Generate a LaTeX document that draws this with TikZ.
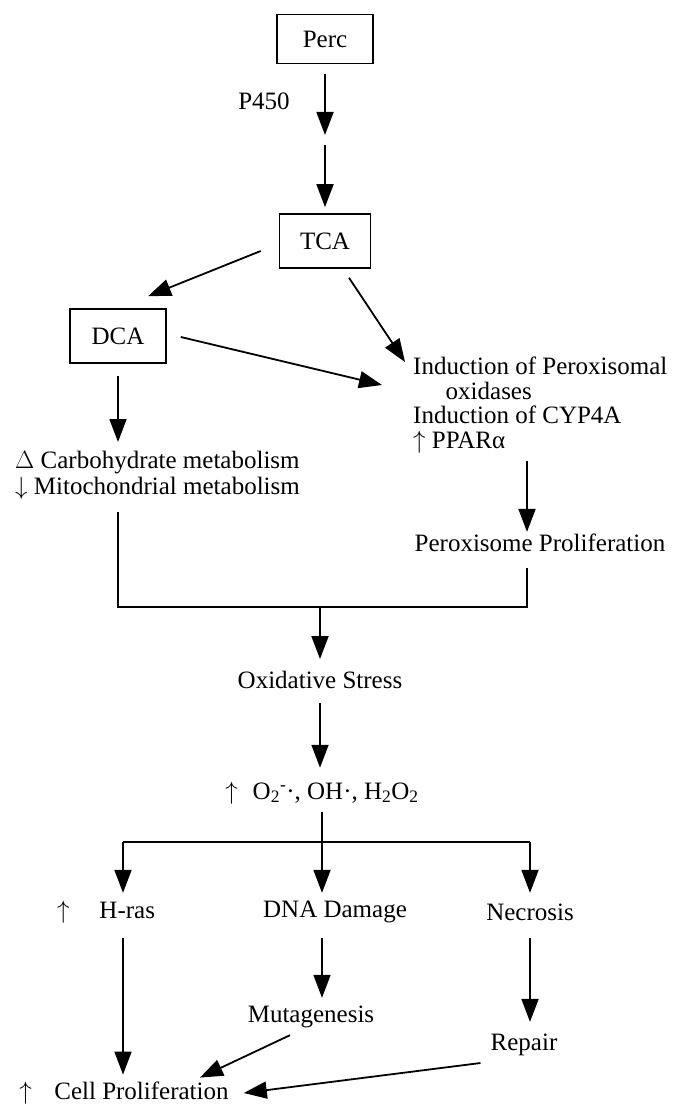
\documentclass[tikz,border=0pt]{standalone}
\usepackage{fontspec}
\setmainfont{Liberation Serif}
\usetikzlibrary{arrows.meta,calc}

\begin{document}
\begin{tikzpicture}[x=1pt,y=-1pt,
  every node/.style={font=\fontsize{25pt}{23.5pt}\selectfont, inner sep=0pt},
  box/.style={draw, line width=1.6pt, minimum width=#1, minimum height=54pt},
  arr/.style={line width=1.8pt, -{Triangle[length=23pt,width=17pt]}},
  link/.style={line width=1.5pt}]
  \useasboundingbox (0,0) rectangle (677,1105);
  % Perc is turned into TCA.
  \node[box=96pt, minimum height=49pt] (perc) at (325,39) {Perc};
  \node (p450) at (264,101) {P450};
  \coordinate (gap) at (325,140);
  \node[box=91pt] (tca) at (325,241) {TCA};
  \draw[arr, shorten <=10pt, shorten >=5pt] (perc) -- (gap);
  \draw[arr, shorten <=5pt, shorten >=6pt] (gap) -- (tca);
  % TCA gives DCA.
  \node[box=96pt] (dca) at (118,336) {DCA};
  \draw[arr] ($(tca.west)+(-18,10)$) -- ($(dca.north)+(30,-12)$);
  % What DCA does on its own.
  \node[anchor=north west, align=left, font=\fontsize{25pt}{26pt}\selectfont] (carb) at (15,451)
    {$\Delta$ Carbohydrate metabolism\\\smash{$\downarrow$} Mitochondrial metabolism};
  \draw[arr, shorten <=12pt, shorten >=9pt] (dca) -- (dca |- carb.north);
  % What TCA and DCA both do.
  \node[anchor=north west, align=left, font=\fontsize{25pt}{24.5pt}\selectfont] (induc) at (413,357)
    {Induction of Peroxisomal\\\hspace*{1.3em}oxidases\\Induction of CYP4A\\\smash{$\uparrow$} PPARα};
  \draw[arr] ($(tca.south)+(24,9)$) -- ($(induc.north west)+(-8,5)$);
  \draw[arr] ($(dca.east)+(14,1)$) -- ($(induc.north west)+(-31,28)$);
  \coordinate (colR) at (527,0);
  \node (perox) at (540,543) {Peroxisome Proliferation};
  \draw[arr, shorten <=12pt, shorten >=2pt] (induc.south -| colR) -- (perox.north -| colR);
  % Both branches meet.
  \coordinate (joinL) at (118,607);
  \coordinate (joinM) at (320,607);
  \coordinate (joinR) at (527,607);
  \draw[link, shorten <=17pt, shorten >=16pt] (carb.south -| joinL) -- (joinL) -- (joinR) -- (perox.south -| joinR);
  \node (oxid) at (320,680) {Oxidative Stress};
  \draw[arr, shorten >=12pt] (joinM) -- (oxid);
  \node (ros) at (322,793) {$\uparrow$\hspace{0.6em}O\textsubscript{2}\textsuperscript{-}·, OH·, H\textsubscript{2}O\textsubscript{2}};
  \draw[arr, shorten <=14pt, shorten >=14pt] (oxid) -- (oxid |- ros.north);
  % Three outcomes.
  \coordinate (splitL) at (123,842);
  \coordinate (splitM) at (322,842);
  \coordinate (splitR) at (530,842);
  \node (hras) at (106,912) {$\uparrow$\hspace{1.2em}H-ras};
  \node (dna) at (335,912) {DNA Damage};
  \node (necro) at (530,912) {Necrosis};
  \draw[link] (splitL) -- (splitR);
  \draw[arr, shorten <=8pt, shorten >=8pt] (ros.south -| splitM) -- (splitM |- dna.north);
  \foreach \s in {splitL,splitR}
    \draw[arr, shorten >=8pt] (\s) -- (\s |- dna.north);
  % Down to cell proliferation.
  \node (muta) at (311,1017) {Mutagenesis};
  \node (repair) at (524,1045) {Repair};
  \node (cell) at (124,1093) {$\uparrow$\hspace{0.9em}Cell Proliferation};
  \draw[arr, shorten <=15pt, shorten >=8pt] (dna.south -| splitM) -- (muta.north -| splitM);
  \draw[arr, shorten <=17pt, shorten >=12pt] (necro.south -| splitR) -- (repair.north -| splitR);
  \draw[arr, shorten <=15pt, shorten >=7pt] (hras.south -| splitL) -- (cell.north -| splitL);
  \draw[arr] ($(muta.south)+(-21,7)$) -- ($(cell.north)+(76,-4)$);
  \draw[arr] ($(repair.west)+(-10,18)$) -- ($(cell.east)+(15,0)$);
\end{tikzpicture}
\end{document}
